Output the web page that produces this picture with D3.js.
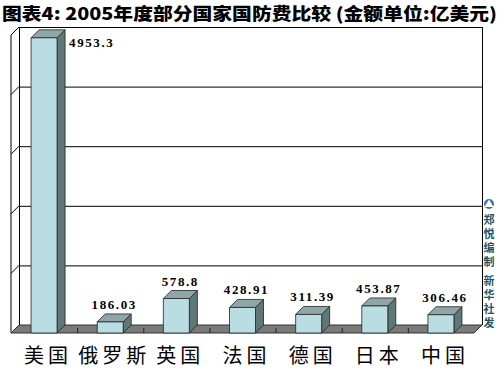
<!DOCTYPE html>
<html><head><meta charset="utf-8">
<script src="https://cdn.jsdelivr.net/npm/d3@7"></script>
<style>body{margin:0;background:#fff}svg{display:block}</style>
</head><body>
<script>
const titleText = "图表4: 2005年度部分国家国防费比较 (金额单位:亿美元)";
const categories = ["美国","俄罗斯","英国","法国","德国","日本","中国"];
const values = [4953.3,186.03,578.8,428.91,311.39,453.87,306.46];
const valueLabels = ["4953.3","186.03","578.8","428.91","311.39","453.87","306.46"];
const yTicks = [0,1000,2000,3000,4000,5000];
const sideNotes = ["郑悦编制","新华社发"];

const W=500,H=369, D=8;
const svg=d3.select("body").append("svg").attr("width",W).attr("height",H);

const x=d3.scaleBand().domain(categories).range([11,474]).padding(0);
const y=d3.scaleLinear().domain([0,5000]).range([325,27]);
const x0=11, x1=474;

// title
svg.append("text").attr("x",2).attr("y",20).text(titleText)
 .attr("font-family","'Noto Sans CJK SC',sans-serif").attr("font-weight","900").attr("font-size",17)
 .attr("textLength",495).attr("lengthAdjust","spacingAndGlyphs").attr("fill","#000");

// left side wall
svg.append("line").attr("x1",x0).attr("x2",x0).attr("y1",y(5000)+D).attr("y2",y(0)+D).attr("stroke","#000");
// back wall grid
yTicks.forEach(v=>{
  if(v>0) svg.append("line").attr("x1",x0+D).attr("x2",x1+D).attr("y1",y(v)+0.5).attr("y2",y(v)+0.5).attr("stroke","#000");
  svg.append("line").attr("x1",x0).attr("y1",y(v)+D).attr("x2",x0+D).attr("y2",y(v)).attr("stroke","#000");
});
svg.append("line").attr("x1",x0+D+0.5).attr("x2",x0+D+0.5).attr("y1",y(5000)).attr("y2",y(0)).attr("stroke","#000");
svg.append("line").attr("x1",x1+D+0.5).attr("x2",x1+D+0.5).attr("y1",y(5000)).attr("y2",y(0)).attr("stroke","#000");

// floor
svg.append("path").attr("d",`M${x0},${y(0)+D}L${x0+D},${y(0)}L${x1+D},${y(0)}L${x1},${y(0)+D}Z`)
 .attr("fill","#7a7a7a").attr("stroke","#333").attr("stroke-width",1);
categories.forEach((c,i)=>{ if(i>0){ const xx=x(c)+0.5;
  svg.append("line").attr("x1",xx).attr("x2",xx).attr("y1",y(0)+3).attr("y2",y(0)+D).attr("stroke","#222");}});

// bars
const bw=26;
categories.forEach((c,i)=>{
  const cx=x(c)+x.bandwidth()/2;
  const L=cx-bw/2, R=cx+bw/2;
  const top=y(values[i])+D, bot=y(0)+D;
  const g=svg.append("g").attr("stroke","#222").attr("stroke-width",0.8).attr("stroke-linejoin","round");
  g.append("path").attr("d",`M${R},${top}L${R+D},${top-D}L${R+D},${bot-D}L${R},${bot}Z`).attr("fill","#5f7777");
  g.append("path").attr("d",`M${L},${top}L${L+D},${top-D}L${R+D},${top-D}L${R},${top}Z`).attr("fill","#8fa6a8");
  g.append("rect").attr("x",L).attr("y",top).attr("width",bw).attr("height",bot-top).attr("fill","#b9dde2");
  const lab=svg.append("text").text(valueLabels[i]).attr("font-family","'Liberation Serif',serif").attr("font-weight","bold")
    .attr("font-size",13).attr("letter-spacing",1.6).attr("fill","#000");
  if(i===0){ lab.attr("x",R+D+4).attr("y",y(values[i])+17); }
  else { lab.attr("x",cx+D/2).attr("y",y(values[i])-5).attr("text-anchor","middle"); }
  svg.append("text").text(c).attr("x",cx+4).attr("y",363).attr("text-anchor","middle")
    .attr("font-family","'Noto Sans CJK SC',sans-serif").attr("font-size",20).attr("letter-spacing",4).attr("fill","#000");
});

// side note
svg.append("circle").attr("cx",489).attr("cy",204).attr("r",5).attr("fill","#3f73b0");
svg.append("path").attr("d","M484.5,207L489,199.5L493.5,207Z").attr("fill","#fff");
const noteTop=[214,275];
sideNotes.forEach((s,i)=>{
  svg.append("text").text(s).attr("x",489).attr("y",noteTop[i])
   .style("writing-mode","vertical-rl").attr("letter-spacing",3)
   .attr("font-family","'Noto Sans CJK SC',sans-serif").attr("font-weight","bold").attr("font-size",11).attr("fill","#1e5566");
});
</script>
</body></html>
